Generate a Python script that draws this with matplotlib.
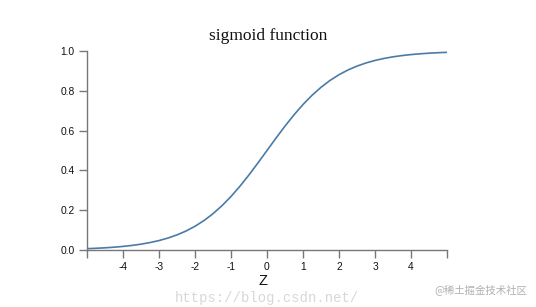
"""Sigmoid curve, redrawn from a D3 screenshot."""

import matplotlib

matplotlib.use("Agg")
import matplotlib.pyplot as plt

# values, step 0.25
z_values = [
    -5.0, -4.75, -4.5, -4.25, -4.0, -3.75, -3.5, -3.25, -3.0, -2.75,
    -2.5, -2.25, -2.0, -1.75, -1.5, -1.25, -1.0, -0.75, -0.5, -0.25,
    0.0, 0.25, 0.5, 0.75, 1.0, 1.25, 1.5, 1.75, 2.0, 2.25,
    2.5, 2.75, 3.0, 3.25, 3.5, 3.75, 4.0, 4.25, 4.5, 4.75, 5.0,
]
sig_values = [
    0.0067, 0.0086, 0.0110, 0.0141, 0.0180, 0.0230, 0.0293, 0.0374, 0.0474, 0.0601,
    0.0759, 0.0953, 0.1192, 0.1480, 0.1824, 0.2227, 0.2689, 0.3208, 0.3775, 0.4378,
    0.5000, 0.5622, 0.6225, 0.6792, 0.7311, 0.7773, 0.8176, 0.8520, 0.8808, 0.9047,
    0.9241, 0.9399, 0.9526, 0.9626, 0.9707, 0.9770, 0.9820, 0.9859, 0.9890, 0.9914, 0.9933,
]
x_ticks = [-4, -3, -2, -1, 0, 1, 2, 3, 4]
y_ticks = [0.0, 0.2, 0.4, 0.6, 0.8, 1.0]

AXIS_GREY = "#777777"

fig = plt.figure(figsize=(5.36, 3.07), dpi=100)
ax = fig.add_axes([87 / 536, 1 - 250 / 307, 360 / 536, 199 / 307])

ax.plot(z_values, sig_values, color="#4a7ba6", linewidth=1.2, solid_capstyle="butt")

ax.set_xlim(-5, 5)
ax.set_ylim(0, 1)
ax.set_xticks(x_ticks)
ax.set_xticklabels([str(t) for t in x_ticks])
ax.set_yticks(y_ticks)
ax.set_yticklabels([f"{t:.1f}" for t in y_ticks])

# d3-style outer ticks at the domain ends
ax.set_xticks([-5, 5], minor=True)
ax.set_yticks([0.0, 1.0], minor=True)

for side in ("top", "right"):
    ax.spines[side].set_visible(False)
for side in ("left", "bottom"):
    ax.spines[side].set_color(AXIS_GREY)
    ax.spines[side].set_linewidth(1.0)

ax.tick_params(which="both", direction="out", length=6, width=1.0, color=AXIS_GREY,
               labelsize=7.4, labelcolor="#111111", pad=3)
for lbl in ax.get_xticklabels() + ax.get_yticklabels():
    lbl.set_fontfamily("Liberation Sans")

fig.text(268 / 536, 1 - 36 / 307, "sigmoid function", ha="center", va="center",
         fontsize=12.5, family="Liberation Serif", color="#111111")
fig.text(263 / 536, 1 - 281 / 307, "Z", ha="center", va="center",
         fontsize=10.5, family="Liberation Sans", color="#111111")

# faint watermarks from the screenshot, nudged below the Z label
fig.text(175 / 536, 1 - 298 / 307, "https://blog.csdn.net/", ha="left", va="center",
         fontsize=10, family="Liberation Mono", color="#d8d8d8")
fig.text(527 / 536, 1 - 290 / 307, "@稀土掘金技术社区", ha="right", va="center",
         fontsize=7.5, family=["Noto Sans CJK SC", "DejaVu Sans"], color="#b0b0b0")

fig.savefig("out.png", dpi=100)
